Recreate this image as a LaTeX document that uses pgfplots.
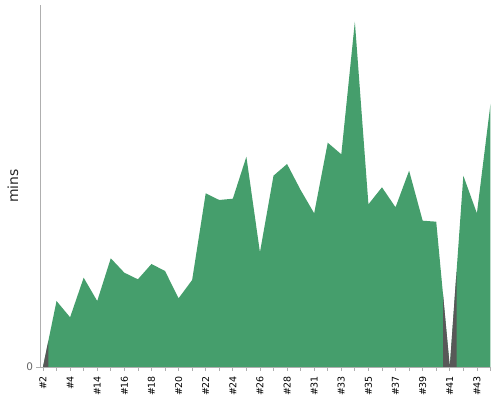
\documentclass[border=0pt]{standalone}
\usepackage{pgfplots}
\pgfplotsset{compat=1.18}
\usepackage{fontspec}
\setmainfont{DejaVu Sans}
\definecolor{okgreen}{RGB}{69,158,108}
\definecolor{badgrey}{RGB}{88,88,88}
\definecolor{axgrey}{RGB}{175,175,175}
\begin{document}
\begin{tikzpicture}
\begin{axis}[name=ax, scale only axis, width=451bp, height=362bp,
 xmin=-0.22, xmax=33.04, ymin=0, ymax=362,
 axis x line*=bottom, axis y line*=left,
 axis line style={axgrey, line width=0.8bp},
 xtick={0,...,33},
 xticklabels={\#2,{},\#4,{},\#14,{},\#16,{},\#18,{},\#20,{},\#22,{},\#24,{},\#26,{},\#28,{},\#31,{},\#33,{},\#35,{},\#37,{},\#39,{},\#41,{},\#43,{}},
 ytick={0}, yticklabels={0},
 tick align=outside, major tick length=3.5bp,
 tick style={axgrey, line width=0.8bp},
 xticklabel style={yshift=-2bp, rotate=90, anchor=east, font=\fontsize{9.5}{10}\selectfont, text=black},
 yticklabel style={font=\fontsize{10.5}{12}\selectfont, text=black!60},
 ylabel={mins},
 ylabel style={at={(axis description cs:-0.06,0.5)}, anchor=center, font=\fontsize{14}{16}\selectfont, text=black!85},
 axis on top, clip=true]
\addplot[draw=none, fill=okgreen] coordinates {
(0,0) (1,66) (2,49.7) (3,89.3) (4,66) (5,108.7) (6,94.3) (7,87.7) (8,103) (9,96)
(10,68.7) (11,87) (12,173.7) (13,167) (14,168.3) (15,210.3) (16,114.7) (17,191.3)
(18,203) (19,177) (20,153.7) (21,224.3) (22,212.7) (23,345.3) (24,162.7) (25,179.7)
(26,159.7) (27,196.3) (28,146.3) (29,145.3) (30,0) (31,191.3) (32,153.7) (33,263)
} \closedcycle;
\addplot[draw=none, fill=badgrey] coordinates {(0,0) (0.4,26.4)} \closedcycle;
\addplot[draw=none, fill=badgrey] coordinates {(29.5,72.65) (30,0) (30.5,95.65)} \closedcycle;
\end{axis}
\pgfresetboundingbox
\path[use as bounding box] ([shift={(-40bp,-33bp)}]ax.south west) rectangle ([shift={(9bp,5bp)}]ax.north east);
\end{tikzpicture}
\end{document}
